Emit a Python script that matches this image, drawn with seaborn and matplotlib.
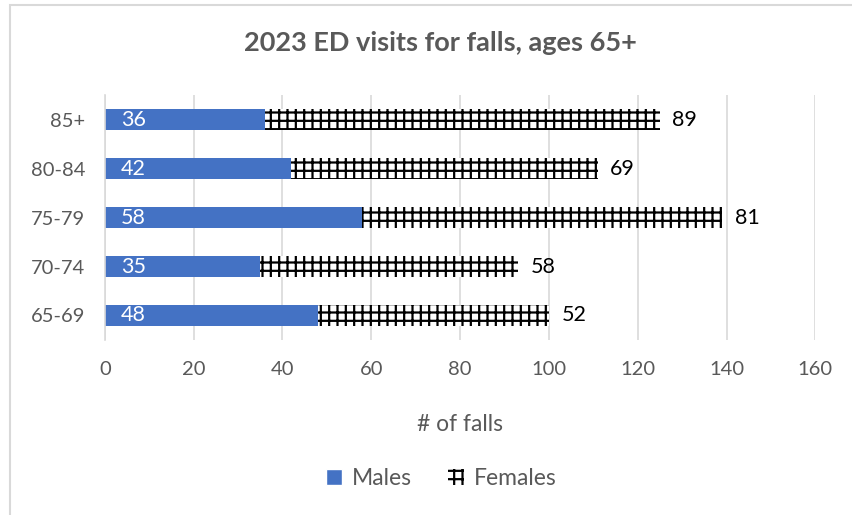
import matplotlib
matplotlib.use('Agg')
import matplotlib.pyplot as plt
import matplotlib.patches as mpatches
import pandas as pd
import seaborn as sns

ages = ['85+', '80-84', '75-79', '70-74', '65-69']
males = [36, 42, 58, 35, 48]
females = [89, 69, 81, 58, 52]

df = pd.DataFrame({'age': ages, 'Males': males, 'Females': females})
df['total'] = df['Males'] + df['Females']

sns.set_theme(style='white')
plt.rcParams['font.family'] = ['Lato', 'DejaVu Sans']
plt.rcParams['hatch.linewidth'] = 1.6
plt.rcParams['hatch.color'] = 'black'

grey = '#595959'
blue = '#4472C4'

fig = plt.figure(figsize=(8.52, 5.15), dpi=100)
ax = fig.add_axes([0.123, 0.34, 0.834, 0.475])

# females drawn as the full stacked length, males on top
sns.barplot(data=df, y='age', x='total', order=ages, color='white', width=0.42,
            edgecolor='black', linewidth=0, hatch='++', ax=ax, saturation=1)
sns.barplot(data=df, y='age', x='Males', order=ages, color=blue, width=0.42,
            edgecolor='none', ax=ax, saturation=1)

ax.bar_label(ax.containers[0], labels=[str(v) for v in females], padding=9,
             fontsize=15.5, color='black')
for bar, v in zip(ax.containers[1], males):
    ax.text(3.6, bar.get_y() + bar.get_height() / 2, str(v), color='white',
            fontsize=15.5, va='center', ha='left')

ax.set_xlim(0, 160)
ax.set_xticks(range(0, 161, 20))
ax.grid(axis='x', color='#d9d9d9', linewidth=1.2)
ax.set_axisbelow(True)
for s in ['top', 'right', 'bottom']:
    ax.spines[s].set_visible(False)
ax.spines['left'].set_color('#d9d9d9')
ax.spines['left'].set_linewidth(1.2)
ax.tick_params(axis='y', labelsize=14.5, colors=grey, length=0, pad=14)
ax.tick_params(axis='x', labelsize=14.5, colors=grey, length=0, pad=15)
ax.set_ylabel('')
ax.set_xlabel('# of falls', fontsize=16.5, color=grey, labelpad=26)

fig.suptitle('2023 ED visits for falls, ages 65+', x=0.517, y=0.94,
             fontsize=19.5, fontweight='bold', color=grey)

handles = [mpatches.Patch(facecolor=blue, label='Males'),
           mpatches.Patch(facecolor='white', hatch='++', edgecolor='black',
                          linewidth=0, label='Females')]
fig.legend(handles=handles, loc='center', bbox_to_anchor=(0.518, 0.07), ncol=2,
           frameon=False, fontsize=16.5, labelcolor=grey, handlelength=0.7,
           handleheight=0.7, columnspacing=1.6, handletextpad=0.4)

fig.patches.append(mpatches.Rectangle((0.012, -0.01), 1.0, 1.0, transform=fig.transFigure,
                                      fill=False, edgecolor='#d9d9d9', linewidth=1.5))

fig.savefig('out.png', dpi=100)
